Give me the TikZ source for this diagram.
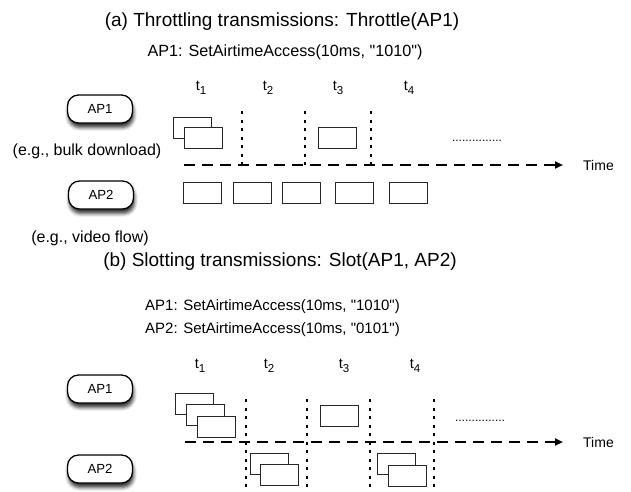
\documentclass[tikz,border=0pt]{standalone}
\usepackage{fontspec}
\newfontfamily\lsans{Liberation Sans}
\usetikzlibrary{arrows.meta,shadows.blur}

\newcommand{\fs}[1]{\lsans\fontsize{#1}{#1}\selectfont}
\newcommand{\slot}[1]{\fs{14.5}t\raisebox{-4pt}{\fs{11.5}#1}}

\tikzset{
  apbox/.style={draw=black, line width=1.3pt, rounded corners=11pt, fill=white,
    minimum width=65pt, minimum height=28pt, inner sep=0pt, font=\fs{13.2},
    blur shadow={shadow xshift=1pt, shadow yshift=-4.5pt, shadow blur radius=3.5pt,
      shadow opacity=80}},
  pkt/.style={draw=black!85, line width=1pt, fill=white,
    minimum width=38pt, minimum height=21pt, inner sep=0pt},
  timeaxis/.style={line width=2.1pt, dash pattern=on 11pt off 7pt,
    -{Triangle[length=8pt,width=7pt]}},
  slotline/.style={line width=1.8pt, dash pattern=on 3pt off 5.5pt},
  lbl/.style={inner sep=0pt},
  more/.style={inner sep=0pt, font=\fs{12}},
}

\begin{document}
\begin{tikzpicture}[x=1pt, y=-1pt]
\useasboundingbox (0,0) rectangle (631,491);

% ---------------- (a) throttling ----------------
\node[lbl, font=\fs{19}] (tA) at (282,22) {(a) Throttling transmissions: Throttle(AP1)};
\node[lbl, font=\fs{16.2}] (cmdA) at (285,52) {AP1: SetAirtimeAccess(10ms, "1010")};

\node[lbl] (ta1) at (201,88) {\slot{1}};
\node[lbl] (ta2) at (268,88) {\slot{2}};
\node[lbl] (ta3) at (338,88) {\slot{3}};
\node[lbl] (ta4) at (409,88) {\slot{4}};

\node[apbox] (apA1) at (100,109) {AP1};
\node[lbl, font=\fs{16}] (bulk) at (87,151) {(e.g., bulk download)};
\node[apbox] (apA2) at (101,195) {AP2};
\node[lbl, font=\fs{16}] (video) at (90,238) {(e.g., video flow)};

% slot boundaries
\coordinate (va1t) at (242,111); \coordinate (va1b) at (242,165);
\coordinate (va2t) at (305,111); \coordinate (va2b) at (305,165);
\coordinate (va3t) at (371,111); \coordinate (va3b) at (371,165);
\draw[slotline] (va1t) -- (va1b);
\draw[slotline] (va2t) -- (va2b);
\draw[slotline] (va3t) -- (va3b);

% time axis
\coordinate (axA0) at (184,165);
\node[lbl, font=\fs{14}, anchor=west] (timeA) at (583,165) {Time};
\draw[timeaxis] (axA0) -- (timeA.west -| 563,165);

% AP1 frames
\node[pkt] (pa1) at (192,127.5) {};
\node[pkt] (pa2) at (203,137.5) {};
\node[pkt] (pa3) at (337,137.5) {};
\node[more] (dotsA) at (477,141) {...............};

% AP2 frames
\node[pkt] (qa1) at (202,192.5) {};
\node[pkt] (qa2) at (252,192.5) {};
\node[pkt] (qa3) at (301.5,192.5) {};
\node[pkt] (qa4) at (354.5,192.5) {};
\node[pkt] (qa5) at (408,192.5) {};

% ---------------- (b) slotting ----------------
\node[lbl, font=\fs{19}] (tB) at (280,262) {(b) Slotting transmissions: Slot(AP1, AP2)};
\node[lbl, font=\fs{15}, anchor=west] (cmdB1) at (145,307) {AP1: SetAirtimeAccess(10ms, "1010")};
\node[lbl, font=\fs{15}, anchor=west] (cmdB2) at (145,330) {AP2: SetAirtimeAccess(10ms, "0101")};

\node[lbl] (tb1) at (200,366) {\slot{1}};
\node[lbl] (tb2) at (269,366) {\slot{2}};
\node[lbl] (tb3) at (344,366) {\slot{3}};
\node[lbl] (tb4) at (415,366) {\slot{4}};

\node[apbox] (apB1) at (100,389) {AP1};
\node[apbox] (apB2) at (100,469) {AP2};

% slot boundaries
\foreach \x/\n in {246/1,307/2,370/3,434/4}{
  \coordinate (vb\n t) at (\x,399);
  \coordinate (vb\n b) at (\x,495);
  \draw[slotline] (vb\n t) -- (vb\n b);
}

% time axis
\coordinate (axB0) at (185,442);
\node[lbl, font=\fs{14}, anchor=west] (timeB) at (583,442) {Time};
\draw[timeaxis] (axB0) -- (timeB.west -| 563,442);

% AP1 frames
\node[pkt] (pb1) at (194.5,404) {};
\node[pkt] (pb2) at (205.5,415) {};
\node[pkt] (pb3) at (216.5,426.5) {};
\node[pkt] (pb4) at (339.5,415.5) {};
\node[more] (dotsB) at (480,421) {...............};

% AP2 frames
\node[pkt] (qb1) at (269,464) {};
\node[pkt] (qb2) at (279.5,475) {};
\node[pkt] (qb3) at (396.5,464) {};
\node[pkt] (qb4) at (407,476) {};
\end{tikzpicture}
\end{document}
